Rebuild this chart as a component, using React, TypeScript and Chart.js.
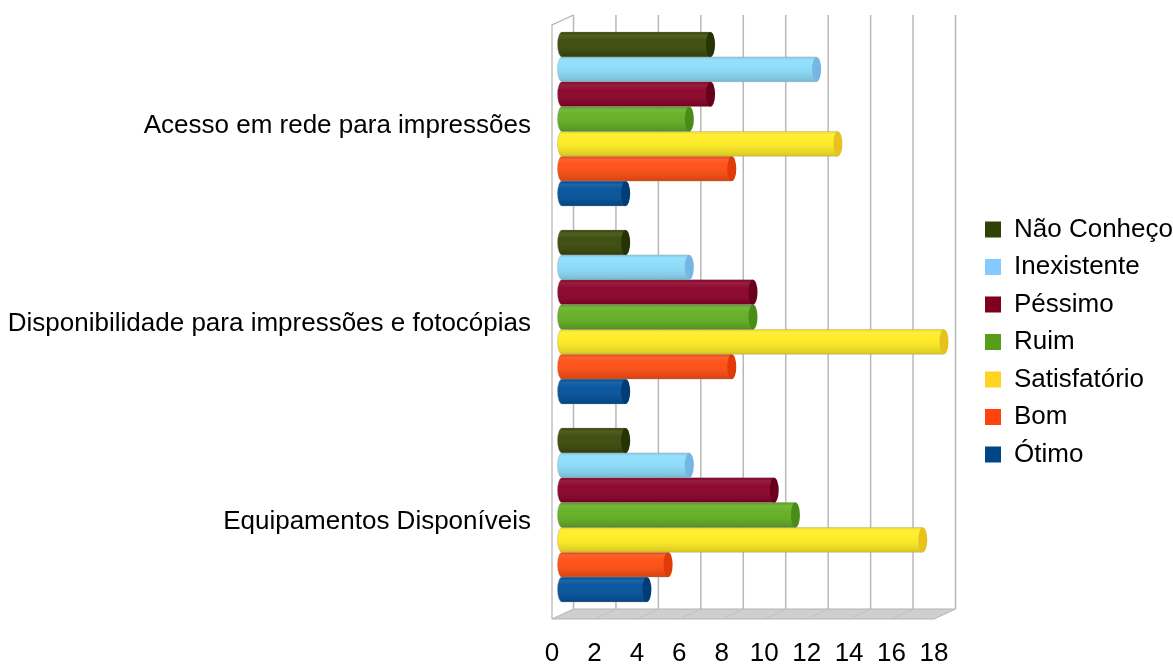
import React, { useEffect, useRef } from "react";
import { Chart, registerables } from "chart.js";

Chart.register(...registerables);

const categories = [
  "Acesso em rede para impressões",
  "Disponibilidade para impressões e fotocópias",
  "Equipamentos Disponíveis",
];
const seriesNames = ["Não Conheço", "Inexistente", "Péssimo", "Ruim", "Satisfatório", "Bom", "Ótimo"];
const naoConheco = [7, 3, 3];
const inexistente = [12, 6, 6];
const pessimo = [7, 9, 10];
const ruim = [6, 9, 11];
const satisfatorio = [13, 18, 17];
const bom = [8, 8, 5];
const otimo = [3, 3, 4];
const xTicks = [0, 2, 4, 6, 8, 10, 12, 14, 16, 18];

const barColors = ["#394907", "#8adcfb", "#8a0027", "#62ae21", "#ffec20", "#ff4c10", "#00509a"];
const capColors = ["#263304", "#76b6e4", "#68001d", "#4a8c18", "#e6c21e", "#e03a08", "#003d76"];
const legendColors = ["#314004", "#83caff", "#7e0021", "#579d1c", "#ffd320", "#ff420e", "#004586"];

const FONT = "'Liberation Sans', Arial, sans-serif";

const noPad = (s: any) => {
  s.paddingTop = 0;
  s.paddingBottom = 0;
  s.paddingLeft = 0;
  s.paddingRight = 0;
};

const threeD = {
  id: "threeD",
  beforeDatasetsDraw(chart: any) {
    const xs = chart.scales.x;
    const { top, bottom } = chart.chartArea;
    const ctx = chart.ctx;
    const BX = 11.5, FX = -10, BY = -5, FY = 5;
    const p0 = xs.getPixelForValue(xTicks[0]);
    const pN = xs.getPixelForValue(xTicks[xTicks.length - 1]);
    ctx.save();
    // floor
    ctx.beginPath();
    ctx.moveTo(p0 + BX, bottom + BY);
    ctx.lineTo(pN + BX, bottom + BY);
    ctx.lineTo(pN + FX, bottom + FY);
    ctx.lineTo(p0 + FX, bottom + FY);
    ctx.closePath();
    ctx.fillStyle = "#cfcfcf";
    ctx.fill();
    ctx.lineWidth = 1;
    ctx.strokeStyle = "#b3b3b3";
    ctx.stroke();
    // floor grid diagonals
    ctx.strokeStyle = "#c2c2c2";
    for (const v of xTicks) {
      const p = xs.getPixelForValue(v);
      ctx.beginPath();
      ctx.moveTo(p + BX, bottom + BY);
      ctx.lineTo(p + FX, bottom + FY);
      ctx.stroke();
    }
    // left wall
    ctx.strokeStyle = "#b3b3b3";
    ctx.lineWidth = 1.2;
    ctx.beginPath();
    ctx.moveTo(p0 + FX, bottom + FY);
    ctx.lineTo(p0 + FX, top + FY);
    ctx.lineTo(p0 + BX, top + BY);
    ctx.stroke();
    // back wall grid lines
    ctx.lineWidth = 1.5;
    ctx.strokeStyle = "#b8b8b8";
    for (const v of xTicks) {
      const p = xs.getPixelForValue(v);
      ctx.beginPath();
      ctx.moveTo(p + BX, top + BY);
      ctx.lineTo(p + BX, bottom + BY);
      ctx.stroke();
    }
    ctx.restore();
  },
  afterDatasetsDraw(chart: any) {
    const ctx = chart.ctx;
    const n = chart.data.datasets.length;
    ctx.save();
    for (let d = n - 1; d >= 0; d--) {
      const meta = chart.getDatasetMeta(d);
      meta.data.forEach((el: any) => {
        const { x, y, base, height } = el.getProps(["x", "y", "base", "height"], true);
        const h = height;
        const t = y - h / 2;
        const rx = 4.5;
        // left bulge
        ctx.beginPath();
        ctx.ellipse(base, y, rx, h / 2, 0, Math.PI / 2, (3 * Math.PI) / 2);
        ctx.closePath();
        ctx.fillStyle = barColors[d];
        ctx.fill();
        // shading overlay
        const g = ctx.createLinearGradient(0, t, 0, t + h);
        g.addColorStop(0, "rgba(0,0,0,0.06)");
        g.addColorStop(0.12, "rgba(255,255,255,0.12)");
        g.addColorStop(0.35, "rgba(255,255,255,0.04)");
        g.addColorStop(1, "rgba(0,0,0,0.16)");
        ctx.beginPath();
        ctx.ellipse(base, y, rx, h / 2, 0, Math.PI / 2, (3 * Math.PI) / 2);
        ctx.lineTo(x, t);
        ctx.lineTo(x, t + h);
        ctx.closePath();
        ctx.fillStyle = g;
        ctx.fill();
        ctx.strokeStyle = "rgba(150,150,150,0.35)";
        ctx.lineWidth = 1;
        ctx.stroke();
        // end face
        ctx.beginPath();
        ctx.ellipse(x, y, rx, h / 2, 0, 0, Math.PI * 2);
        ctx.fillStyle = capColors[d];
        ctx.fill();
      });
    }
    ctx.restore();
  },
};

export default function App() {
  const ref = useRef<HTMLCanvasElement>(null);
  useEffect(() => {
    const seriesValues = [naoConheco, inexistente, pessimo, ruim, satisfatorio, bom, otimo];
    const chart = new Chart(ref.current as HTMLCanvasElement, {
      type: "bar",
      data: {
        labels: categories,
        datasets: seriesNames.map((name, i) => ({
          label: name,
          data: seriesValues[i],
          backgroundColor: barColors[i],
          borderWidth: 0,
          barPercentage: 1,
          categoryPercentage: 0.878,
        })),
      },
      options: {
        indexAxis: "y",
        animation: false,
        responsive: false,
        devicePixelRatio: 1,
        layout: { autoPadding: false, padding: { top: 20, left: 0, right: 0, bottom: 0 } },
        scales: {
          x: {
            type: "linear",
            position: "bottom",
            min: 0,
            max: 18,
            afterBuildTicks: (s: any) => {
              s.ticks = xTicks.map((v) => ({ value: v }));
            },
            ticks: {
              stepSize: 2,
              font: { family: FONT, size: 26 },
              color: "#000",
              labelOffset: -10,
              padding: 24,
              maxRotation: 0,
              autoSkip: false,
            },
            grid: { display: false, drawTicks: false },
            border: { display: false },
            afterFit: (s: any) => {
              s.height = 50;
              noPad(s);
            },
          },
          y: {
            type: "category",
            position: "left",
            ticks: {
              font: { family: FONT, size: 26 },
              color: "#000",
              padding: 31,
              labelOffset: 7,
              autoSkip: false,
            },
            grid: { display: false, drawTicks: false },
            border: { display: false },
            afterFit: (s: any) => {
              s.width = 562;
              noPad(s);
            },
          },
          y2: {
            type: "linear",
            position: "right",
            display: true,
            ticks: { display: false },
            grid: { display: false, drawTicks: false },
            border: { display: false },
            afterFit: (s: any) => {
              s.width = 29.5;
              noPad(s);
            },
          },
        },
        plugins: {
          legend: {
            position: "right",
            align: "center",
            maxWidth: 199.5,
            labels: {
              font: { family: FONT, size: 26 },
              color: "#000",
              boxWidth: 16,
              boxHeight: 16,
              padding: 11.5,
              generateLabels: (ch: any) =>
                ch.data.datasets.map((ds: any, i: number) => ({
                  text: ds.label,
                  fillStyle: legendColors[i],
                  strokeStyle: legendColors[i],
                  lineWidth: 0,
                  hidden: false,
                  datasetIndex: i,
                  fontColor: "#000",
                })),
            },
          },
          tooltip: { enabled: false },
        },
      },
      plugins: [threeD],
    } as any);
    return () => chart.destroy();
  }, []);
  return (
    <div style={{ position: "fixed", left: 0, top: 0, width: 1173, height: 664, background: "#fff" }}>
      <canvas ref={ref} width={1173} height={664} style={{ width: 1173, height: 664, display: "block" }} />
    </div>
  );
}
